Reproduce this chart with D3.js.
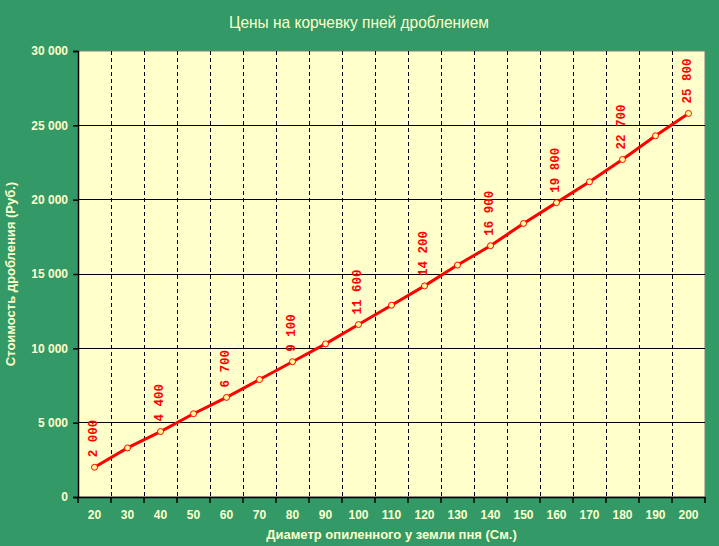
<!DOCTYPE html>
<html>
<head>
<meta charset="utf-8">
<script src="https://cdn.jsdelivr.net/npm/d3@7"></script>
<style>
  body { margin: 0; background: #339966; }
  svg { display: block; }
</style>
</head>
<body>
<svg id="chart" width="719" height="546"></svg>
<script>
const diameters = [20, 30, 40, 50, 60, 70, 80, 90, 100, 110, 120, 130, 140, 150, 160, 170, 180, 190, 200];
const prices = [2000, 3300, 4400, 5600, 6700, 7900, 9100, 10300, 11600, 12900, 14200, 15600, 16900, 18400, 19800, 21200, 22700, 24300, 25800];
const labelled = [20, 40, 60, 80, 100, 120, 140, 160, 180, 200];
const yTicks = [0, 5000, 10000, 15000, 20000, 25000, 30000];

const title = "Цены на корчевку пней дроблением";
const xTitle = "Диаметр опиленного у земли пня (См.)";
const yTitle = "Стоимость дробления (Руб.)";

const light = "#ffffcc";
const margin = {top: 51, right: 14, bottom: 49, left: 78};
const W = 719, H = 546;
const width = W - margin.left - margin.right;
const height = H - margin.top - margin.bottom;

const fmt = d => d3.format(",")(d).replace(/,/g, " ");

let svg = d3.select("#chart");
svg.append("rect").attr("width", W).attr("height", H).attr("fill", "#339966");

svg.append("text")
    .attr("x", 359).attr("y", 28)
    .attr("text-anchor", "middle")
    .attr("fill", light)
    .attr("font-family", "'Liberation Sans Narrow', 'Arial Narrow', sans-serif")
    .attr("font-size", 17)
    .attr("textLength", 260)
    .attr("lengthAdjust", "spacingAndGlyphs")
    .text(title);

let g = svg.append("g").attr("transform", `translate(${margin.left},${margin.top})`);

let x = d3.scaleBand().domain(diameters).range([0, width]);
let y = d3.scaleLinear().domain([0, 30000]).range([height, 0]);

g.append("rect")
    .attr("width", width).attr("height", height)
    .attr("fill", "#ffffcc")
    .attr("stroke", "#808080");

// vertical dashed gridlines at band boundaries
let bounds = diameters.slice(1).map(d => x(d));
g.selectAll(".vgrid").data(bounds).join("line")
    .attr("x1", d => d).attr("x2", d => d)
    .attr("y1", 0).attr("y2", height)
    .attr("stroke", "#000").attr("stroke-width", 1)
    .attr("stroke-dasharray", "4,3")
    .attr("shape-rendering", "crispEdges");

// horizontal solid gridlines
g.selectAll(".hgrid").data(yTicks.slice(1, -1)).join("line")
    .attr("x1", 0).attr("x2", width)
    .attr("y1", d => y(d)).attr("y2", d => y(d))
    .attr("stroke", "#000").attr("stroke-width", 1)
    .attr("shape-rendering", "crispEdges");

// y axis
let yaxis = g.append("g")
    .call(d3.axisLeft(y).tickValues(yTicks).tickFormat(fmt).tickSize(5).tickPadding(5));
yaxis.select(".domain").attr("stroke", "#000").attr("stroke-width", 1.5);
yaxis.selectAll(".tick line").attr("stroke", "#000").attr("stroke-width", 1.5);
yaxis.selectAll("text")
    .attr("fill", light)
    .attr("font-family", "'Liberation Sans', Arial, sans-serif")
    .attr("font-weight", "bold")
    .attr("font-size", 12);

// x axis
let xaxis = g.append("g")
    .attr("transform", `translate(0,${height})`)
    .call(d3.axisBottom(x).tickSize(0).tickPadding(13));
xaxis.select(".domain").attr("stroke", "#000").attr("stroke-width", 1.5);
xaxis.selectAll("text")
    .attr("fill", light)
    .attr("font-family", "'Liberation Sans', Arial, sans-serif")
    .attr("font-weight", "bold")
    .attr("font-size", 12);
xaxis.selectAll(".bound").data(x.domain().map(d => x(d)).concat([width])).join("line")
    .attr("class", "bound")
    .attr("x1", d => d).attr("x2", d => d)
    .attr("y1", 0).attr("y2", 6)
    .attr("stroke", "#000").attr("stroke-width", 1.5);

// line
let cx = d => x(d) + x.bandwidth() / 2;
let pts = diameters.map((d, i) => ({d: d, v: prices[i]}));
g.append("path")
    .datum(pts)
    .attr("fill", "none")
    .attr("stroke", "#ff0000")
    .attr("stroke-width", 3)
    .attr("d", d3.line().x(p => cx(p.d)).y(p => y(p.v)));

g.selectAll(".pt").data(pts).join("circle")
    .attr("cx", p => cx(p.d)).attr("cy", p => y(p.v))
    .attr("r", 3)
    .attr("fill", "#ffff99")
    .attr("stroke", "#ff0000")
    .attr("stroke-width", 1);

// value labels
g.selectAll(".lbl").data(pts.filter(p => labelled.includes(p.d))).join("text")
    .attr("transform", p => `translate(${cx(p.d) + 2},${y(p.v) - 10}) rotate(-90)`)
    .attr("fill", "#ff0000")
    .attr("font-family", "'Liberation Mono', 'Courier New', monospace")
    .attr("font-weight", "bold")
    .attr("font-size", 12.5)
    .style("white-space", "pre")
    .text(p => fmt(p.v));

// axis titles
svg.append("text")
    .attr("x", margin.left + width / 2).attr("y", 539)
    .attr("text-anchor", "middle")
    .attr("fill", light)
    .attr("font-family", "'Liberation Sans', Arial, sans-serif")
    .attr("font-weight", "bold")
    .attr("font-size", 13)
    .text(xTitle);

svg.append("text")
    .attr("transform", `translate(15,${margin.top + height / 2}) rotate(-90)`)
    .attr("text-anchor", "middle")
    .attr("fill", light)
    .attr("font-family", "'Liberation Sans', Arial, sans-serif")
    .attr("font-weight", "bold")
    .attr("font-size", 13)
    .text(yTitle);
</script>
</body>
</html>
